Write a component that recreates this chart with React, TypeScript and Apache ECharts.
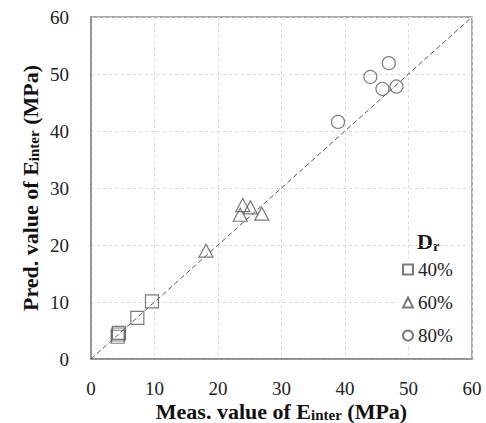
import React, { useEffect, useRef } from "react";
import * as echarts from "echarts";

// Measured vs. predicted interface modulus (MPa) per relative density
const dr40Meas = [4.2, 4.4, 4.3, 7.3, 9.6];
const dr40Pred = [3.9, 4.6, 4.3, 7.2, 10.1];
const dr60Meas = [18.1, 23.9, 25.1, 23.5, 26.9];
const dr60Pred = [19.0, 27.0, 26.6, 25.3, 25.5];
const dr80Meas = [38.9, 44.0, 45.9, 46.9, 48.1];
const dr80Pred = [41.6, 49.5, 47.4, 51.9, 47.8];
const seriesNames = ["40%", "60%", "80%"];
const axisTicks = [0, 10, 20, 30, 40, 50, 60];

const FONT = "'Liberation Serif', 'Times New Roman', serif";
const MARK = "#5a5a5a";

const zip = (xs: number[], ys: number[]) => xs.map((x, i) => [x, ys[i]]);

const nameRich = {
  b: { fontFamily: FONT, fontSize: 22, fontWeight: "bold", color: "#111", lineHeight: 22 },
  s: { fontFamily: FONT, fontSize: 15, fontWeight: "bold", color: "#111", padding: [7, 0, 0, 0] },
};

const plainRich = {
  t: { fontFamily: FONT, fontSize: 19, fontWeight: "normal", color: "#222", lineHeight: 16 },
};

export default function App() {
  const ref = useRef<HTMLDivElement>(null);

  useEffect(() => {
    if (!ref.current) return;
    const chart = echarts.init(ref.current, undefined, { renderer: "svg" });

    const markerStyle = {
      color: "rgba(0,0,0,0)",
      borderColor: MARK,
      borderWidth: 1.2,
    };

    const valueAxis = {
      type: "value",
      min: axisTicks[0],
      max: axisTicks[axisTicks.length - 1],
      interval: 10,
      axisLine: { show: true, lineStyle: { color: "#8a8a8a", width: 1.5 } },
      axisTick: { show: false },
      splitLine: { show: true, lineStyle: { color: "#d9d9d9", type: [3, 3], width: 1 } },
      nameLocation: "middle",
      nameMoveOverlap: false,
      nameTextStyle: { rich: nameRich },
    };

    chart.setOption({
      animation: false,
      backgroundColor: "#fff",
      textStyle: { fontFamily: FONT },
      grid: {
        left: 91,
        top: 17,
        width: 381,
        height: 342,
        containLabel: false,
        outerBoundsMode: "none",
        show: true,
        borderColor: "#8a8a8a",
        borderWidth: 1.5,
      },
      xAxis: {
        ...valueAxis,
        axisLabel: { formatter: "{t|{value}}", rich: plainRich, margin: 21 },
        name: "{b|Meas. value of E}{s|inter}{b| (MPa)}",
        nameGap: 41,
      },
      yAxis: {
        ...valueAxis,
        axisLabel: { formatter: "{t|{value}}", rich: plainRich, margin: 22 },
        name: "{b|Pred. value of E}{s|inter}{b| (MPa)}",
        nameGap: 50,
      },
      legend: {
        orient: "vertical",
        left: 398,
        top: 258,
        itemWidth: 10,
        itemHeight: 10,
        itemGap: 14,
        padding: [2, 14, 2, 4],
        backgroundColor: "#fff",
        data: seriesNames,
        formatter: "{t|{name}}",
        textStyle: { rich: plainRich },
      },
      graphic: [
        {
          type: "text",
          left: 417,
          top: 229,
          style: {
            text: "{D|D}{r|r}",
            backgroundColor: "#fff",
            rich: {
              D: { fontFamily: FONT, fontSize: 22, fontWeight: "bold", fill: "#111", lineHeight: 24 },
              r: { fontFamily: FONT, fontSize: 15, fontWeight: "bold", fill: "#111", padding: [9, 0, 0, 0] },
            },
          },
        },
      ],
      series: [
        {
          type: "line",
          data: [[0, 0], [60, 60]],
          symbol: "none",
          silent: true,
          lineStyle: { color: "#555", width: 1, type: [5, 3] },
          z: 1,
        },
        {
          name: seriesNames[0],
          type: "scatter",
          symbol: "rect",
          symbolSize: 13,
          itemStyle: markerStyle,
          data: zip(dr40Meas, dr40Pred),
          z: 3,
        },
        {
          name: seriesNames[1],
          type: "scatter",
          symbol: "triangle",
          symbolSize: [14, 13],
          itemStyle: markerStyle,
          data: zip(dr60Meas, dr60Pred),
          z: 3,
        },
        {
          name: seriesNames[2],
          type: "scatter",
          symbol: "circle",
          symbolSize: 13,
          itemStyle: markerStyle,
          data: zip(dr80Meas, dr80Pred),
          z: 3,
        },
      ],
    });

    return () => chart.dispose();
  }, []);

  return (
    <div
      ref={ref}
      style={{ position: "fixed", left: 0, top: 0, width: 486, height: 423, background: "#fff" }}
    />
  );
}
